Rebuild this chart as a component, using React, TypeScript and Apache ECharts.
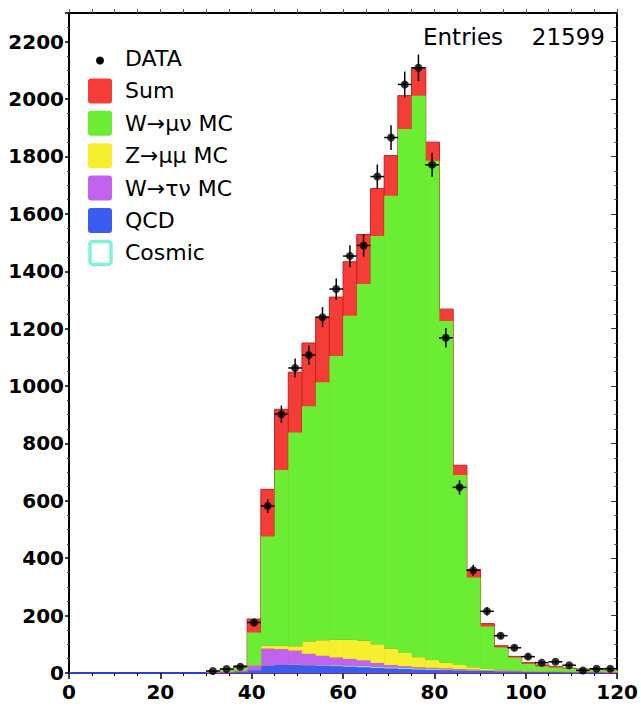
import { useEffect, useRef } from "react";
import * as echarts from "echarts";

// ---- data ----
const binLow = [30, 33, 36, 39, 42, 45, 48, 51, 54, 57, 60, 63, 66, 69, 72, 75, 78, 81, 84, 87, 90, 93, 96, 99, 102, 105, 108, 111, 114, 117];
const BIN_WIDTH = 3;
const dataCounts = [7, 14, 22, 176, 582, 902, 1063, 1108, 1240, 1338, 1453, 1490, 1730, 1866, 2051, 2109, 1771, 1168, 647, 358, 215, 130, 88, 57, 36, 39, 27, 9, 15, 15];
const dataErr = [2.6, 3.7, 4.7, 13, 24, 30, 33, 33, 35, 37, 38, 39, 42, 43, 45, 46, 42, 34, 25, 19, 15, 11, 9, 8, 6, 6, 5, 3, 4, 4];
const sumMC = [4, 10, 25, 188, 640, 919, 1048, 1150, 1240, 1310, 1433, 1528, 1688, 1803, 2012, 2110, 1850, 1268, 724, 361, 172, 95, 58, 36, 28, 22, 17, 14, 12, 10];
const wMunu = [2, 6, 14, 114, 381, 612, 745, 820, 899, 989, 1129, 1244, 1423, 1578, 1826, 1957, 1740, 1191, 662, 313, 148, 78, 46, 25, 17, 14, 11, 9, 7, 6];
const zMumu = [0, 0, 0, 1, 10, 12, 15, 43, 54, 62, 67, 68, 65, 57, 46, 35, 27, 20, 14, 8, 4, 2, 1, 1, 1, 0, 0, 0, 0, 0];
const wTaunu = [1, 2, 4, 15, 59, 54, 48, 38, 33, 27, 23, 20, 13, 8, 6, 4, 3, 3, 2, 2, 1, 1, 1, 0, 0, 0, 0, 0, 0, 0];
const qcd = [1, 2, 4, 10, 25, 28, 28, 27, 25, 24, 22, 20, 18, 16, 14, 12, 11, 10, 9, 8, 7, 6, 5, 5, 4, 4, 3, 3, 3, 2];
const cosmic = [0, 0, 0, 1, 1, 1, 2, 2, 2, 3, 4, 4, 4, 4, 4, 4, 4, 3, 3, 2, 2, 2, 1, 1, 1, 1, 1, 1, 1, 1];

const legendLabels = ["DATA", "Sum", "W\u2192\u03bc\u03bd MC", "Z\u2192\u03bc\u03bc MC", "W\u2192\u03c4\u03bd MC", "QCD", "Cosmic"];
const entriesLabel = "Entries";
const entriesValue = "21599";

const X_MIN = 0, X_MAX = 120, X_INTERVAL = 20;
const Y_MIN = 0, Y_MAX = 2300, Y_INTERVAL = 200;

const C = {
  sum: "#f33d36",
  sumEdge: "#c42020",
  w: "#6bed33",
  z: "#f6ef2d",
  tau: "#c063ee",
  qcd: "#3a5cf0",
  cosmic: "#7ff2da",
};

const FONT = "DejaVu Sans";

function rectRender(fill: string, stroke?: string) {
  return (_p: any, api: any) => {
    const x0 = api.value(0), x1 = api.value(1), y0 = api.value(2), y1 = api.value(3);
    if (!(y1 > y0)) return { type: "group", children: [] };
    const a = api.coord([x0, y1]);
    const b = api.coord([x1, y0]);
    return {
      type: "rect",
      shape: { x: a[0], y: a[1], width: b[0] - a[0] + 0.5, height: b[1] - a[1] },
      style: stroke ? { fill, stroke, lineWidth: 1 } : { fill },
    };
  };
}

export default function App() {
  const ref = useRef<HTMLDivElement>(null);
  useEffect(() => {
    if (!ref.current) return;
    const chart = echarts.init(ref.current, null, { renderer: "svg" });

    // stacked MC layers
    const layers = [
      { name: "QCD", vals: qcd, color: C.qcd },
      { name: "Cosmic", vals: cosmic, color: C.cosmic },
      { name: "W\u2192\u03c4\u03bd MC", vals: wTaunu, color: C.tau },
      { name: "Z\u2192\u03bc\u03bc MC", vals: zMumu, color: C.z },
      { name: "W\u2192\u03bc\u03bd MC", vals: wMunu, color: C.w },
    ];
    const base = binLow.map(() => 0);
    const layerSeries = layers.map((l) => {
      const rows = binLow.map((lo, i) => {
        const b = base[i];
        const t = b + l.vals[i];
        base[i] = t;
        return [lo, lo + BIN_WIDTH, b, t];
      });
      return {
        type: "custom",
        name: l.name,
        renderItem: rectRender(l.color),
        encode: { x: [0, 1], y: [2, 3] },
        data: rows,
        z: 3,
      };
    });

    const sumRows = binLow.map((lo, i) => [lo, lo + BIN_WIDTH, 0, sumMC[i]]);
    const dataRows = binLow.map((lo, i) => [lo + BIN_WIDTH / 2, dataCounts[i], dataErr[i]]);

    const legendGraphics: any[] = [];
    const legendColors = [null, C.sum, C.w, C.z, C.tau, C.qcd, C.cosmic];
    legendLabels.forEach((lab, i) => {
      const yc = 58.5 + 32.4 * i;
      if (i === 0) {
        legendGraphics.push({ type: "circle", shape: { cx: 100, cy: yc + 2, r: 4 }, style: { fill: "#000" } });
      } else if (lab === "Cosmic") {
        legendGraphics.push({
          type: "rect",
          shape: { x: 90, y: yc - 11.5, width: 21, height: 23, r: 3 },
          style: { fill: "#fff", stroke: legendColors[i], lineWidth: 3.5 },
        });
      } else {
        legendGraphics.push({
          type: "rect",
          shape: { x: 88, y: yc - 12.5, width: 24, height: 25, r: 3 },
          style: { fill: legendColors[i] },
        });
      }
      legendGraphics.push({
        type: "text",
        x: 125,
        y: yc,
        style: { text: lab, fontFamily: FONT, fontSize: 22, fill: "#000", verticalAlign: "middle", align: "left" },
      });
    });

    const option: any = {
      animation: false,
      backgroundColor: "#fff",
      textStyle: { fontFamily: FONT },
      grid: { left: 69, right: 20, top: 13, bottom: 35, containLabel: false },
      xAxis: [
        {
          type: "value",
          min: X_MIN,
          max: X_MAX,
          interval: X_INTERVAL,
          position: "bottom",
          axisLine: { show: true, onZero: false, lineStyle: { color: "#2a3fd8", width: 2 } },
          axisTick: { show: true, inside: false, length: 6, lineStyle: { color: "#000", width: 1.5 } },
          minorTick: { show: true, splitNumber: 4, length: 3, lineStyle: { color: "#000", width: 1 } },
          splitLine: { show: false },
          axisLabel: { fontFamily: FONT, fontWeight: "bold", fontSize: 20, color: "#000", margin: 9 },
        },
        {
          type: "value",
          min: X_MIN,
          max: X_MAX,
          interval: 5,
          position: "top",
          axisLine: { show: true, onZero: false, lineStyle: { color: "#000", width: 2 } },
          axisTick: { show: true, inside: false, length: 4, lineStyle: { color: "#555", width: 1 } },
          splitLine: { show: false },
          axisLabel: { show: false },
        },
      ],
      yAxis: [
        {
          type: "value",
          min: Y_MIN,
          max: Y_MAX,
          interval: Y_INTERVAL,
          position: "left",
          axisLine: { show: true, onZero: false, lineStyle: { color: "#000", width: 2 } },
          axisTick: { show: true, inside: false, length: 4, lineStyle: { color: "#000", width: 1.5 } },
          minorTick: { show: true, splitNumber: 4, length: 2, lineStyle: { color: "#333", width: 1 } },
          splitLine: { show: false },
          axisLabel: {
            fontFamily: FONT,
            fontWeight: "bold",
            fontSize: 20,
            color: "#000",
            margin: 5,
            formatter: (v: number) => (v % Y_INTERVAL === 0 && v < Y_MAX ? String(v) : ""),
          },
        },
        {
          type: "value",
          min: Y_MIN,
          max: Y_MAX,
          interval: Y_INTERVAL,
          position: "right",
          axisLine: { show: true, onZero: false, lineStyle: { color: "#000", width: 2 } },
          axisTick: { show: true, inside: true, length: 6, lineStyle: { color: "#333", width: 1 } },
          minorTick: { show: true, splitNumber: 4, length: 3, lineStyle: { color: "#555", width: 1 } },
          splitLine: { show: false },
          axisLabel: { show: false },
        },
      ],
      series: [
        {
          type: "custom",
          name: "Sum",
          renderItem: rectRender(C.sum, C.sumEdge),
          encode: { x: [0, 1], y: [2, 3] },
          data: sumRows,
          z: 2,
        },
        ...layerSeries,
        {
          type: "custom",
          name: "DATA errors",
          renderItem: (_p: any, api: any) => {
            const x = api.value(0), y = api.value(1), e = api.value(2);
            const c = api.coord([x, y]);
            const t = api.coord([x, y + e]);
            const b = api.coord([x, Math.max(0, y - e)]);
            const l = api.coord([x - BIN_WIDTH / 2, y]);
            const r = api.coord([x + BIN_WIDTH / 2, y]);
            return {
              type: "group",
              children: [
                { type: "line", shape: { x1: c[0], y1: t[1], x2: c[0], y2: b[1] }, style: { stroke: "#000", lineWidth: 1.5 } },
                { type: "line", shape: { x1: l[0], y1: c[1], x2: r[0], y2: c[1] }, style: { stroke: "#000", lineWidth: 1.5 } },
              ],
            };
          },
          encode: { x: 0, y: 1 },
          data: dataRows,
          z: 5,
        },
        {
          type: "scatter",
          name: "DATA",
          symbol: "circle",
          symbolSize: 8,
          itemStyle: { color: "#000" },
          data: dataRows.map((r) => [r[0], r[1]]),
          z: 6,
        },
      ],
      graphic: [
        {
          type: "text",
          x: 423,
          y: 37,
          style: { text: entriesLabel, fontFamily: FONT, fontSize: 23, fill: "#000", verticalAlign: "middle", align: "left" },
        },
        {
          type: "text",
          x: 605,
          y: 37,
          style: { text: entriesValue, fontFamily: FONT, fontSize: 23, fill: "#000", verticalAlign: "middle", align: "right" },
        },
        ...legendGraphics,
      ],
    };
    chart.setOption(option);
    return () => chart.dispose();
  }, []);

  return (
    <div
      ref={ref}
      style={{ position: "fixed", left: 0, top: 0, width: 641, height: 708, background: "#fff" }}
    />
  );
}
